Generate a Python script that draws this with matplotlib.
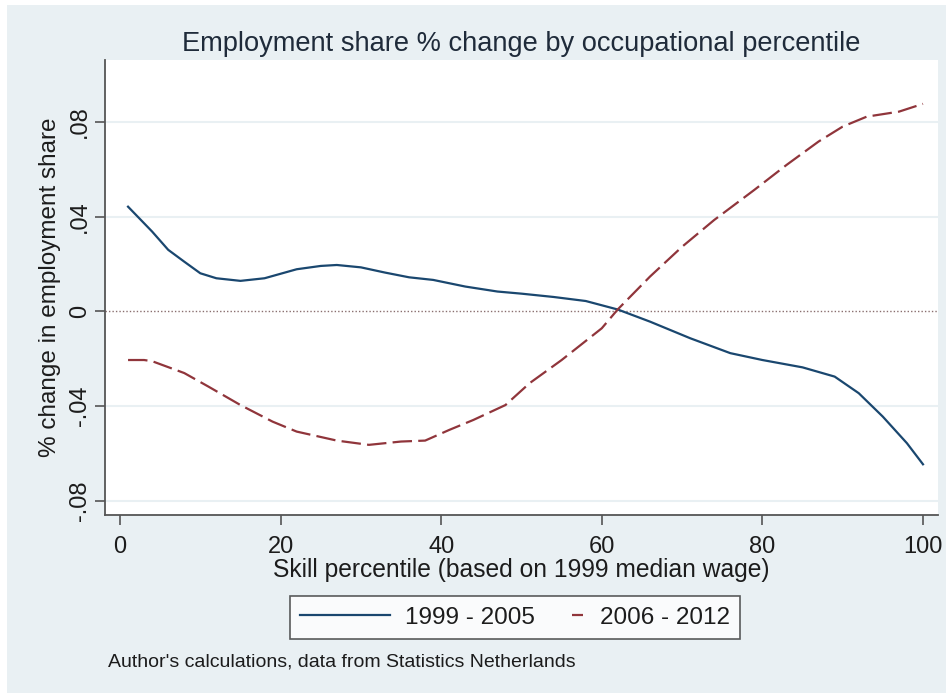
import matplotlib
matplotlib.use('Agg')
import matplotlib.pyplot as plt
from matplotlib.patches import Rectangle
from matplotlib.legend_handler import HandlerLine2D

plt.rcParams['font.family'] = ['Liberation Sans', 'DejaVu Sans']
plt.rcParams['lines.scale_dashes'] = False

# smoothed employment share change
pct_a = [1, 4, 6, 8, 10, 12, 15, 18, 22, 25, 27, 30, 33, 36, 39, 43, 47, 50,
         54, 58, 62, 66, 71, 76, 80, 85, 89, 92, 95, 98, 100]
share_a = [.0442, .0337, .026, .021, .0161, .014, .0129, .014, .0178, .0192,
           .0196, .0186, .0164, .0144, .0133, .0105, .0084, .0075, .0061, .0044,
           .0008, -.0043, -.0113, -.0176, -.0205, -.0236, -.0275, -.0345,
           -.0444, -.0556, -.0645]
pct_b = [1, 3, 4, 8, 11, 15, 19, 22, 27, 31, 35, 38, 41, 44, 48, 51, 55, 60,
         62, 66, 70, 74, 79, 83, 87, 90, 93, 97, 100]
share_b = [-.0205, -.0205, -.021, -.026, -.0317, -.0395, -.0465, -.0507,
           -.0545, -.0563, -.0549, -.0545, -.05, -.0458, -.0395, -.0303,
           -.0205, -.0071, .0009, .0147, .0273, .0386, .0513, .0618, .0717,
           .078, .0822, .0843, .0876]
series_labels = ['1999 - 2005', '2006 - 2012']
xticks = [0, 20, 40, 60, 80, 100]
yticks = [-0.08, -0.04, 0, 0.04, 0.08]
ytick_labels = ['-.08', '-.04', '0', '.04', '.08']

bg = '#e9f0f3'
navy = '#1a476f'
maroon = '#90353b'
txt = '#1c1c1c'


class ShortKey(HandlerLine2D):
    # stata draws only a short piece of the dashed key
    def get_xdata(self, legend, xdescent, ydescent, width, height, fontsize):
        xs = [width * 0.86 - xdescent, width * 0.98 - xdescent]
        return xs, xs


fig = plt.figure(figsize=(9.46, 6.93), dpi=100, facecolor='white')
fig.patches.append(Rectangle((7 / 946, 0), 1, 1 - 5 / 693, transform=fig.transFigure,
                             facecolor=bg, edgecolor='none', zorder=-10))

ax = fig.add_axes([105 / 946, 1 - 515 / 693, (938 - 105) / 946, (515 - 60) / 693])
ax.set_facecolor('white')

for t in yticks:
    if t != 0:
        ax.axhline(t, color=bg, lw=1.5, zorder=1)
ax.axhline(0, color='#8a6f6f', lw=1, ls=(0, (1, 1.5)), zorder=1)

l1, = ax.plot(pct_a, share_a, color=navy, lw=1.6, zorder=3)
l2, = ax.plot(pct_b, share_b, color=maroon, lw=1.6, ls=(0, (14, 4.5)), zorder=3)

ax.set_xlim(-1.87, 101.87)
ax.set_ylim(-0.0859, 0.1061)
ax.set_xticks(xticks)
ax.set_yticks(yticks)
ax.set_yticklabels(ytick_labels, rotation=90, va='center')
for s in ['top', 'right']:
    ax.spines[s].set_visible(False)
for s in ['left', 'bottom']:
    ax.spines[s].set_color('#555555')
    ax.spines[s].set_linewidth(1.3)
ax.tick_params(direction='out', length=7, width=1.2, color='#555555',
               labelsize=17, labelcolor=txt)
ax.tick_params(axis='x', pad=8)
ax.tick_params(axis='y', pad=3)

ax.set_xlabel('Skill percentile (based on 1999 median wage)', fontsize=17.7,
              color=txt, labelpad=0)
ax.set_ylabel('% change in employment share', fontsize=17.5, color=txt, labelpad=6)
ax.set_title('Employment share % change by occupational percentile', fontsize=19.6,
             color='#1f2b3a', pad=6.5)

leg = fig.legend([l1, l2], series_labels, loc='center', ncol=2,
                 bbox_to_anchor=(515 / 946, 1 - 617.5 / 693),
                 fontsize=17.5, frameon=True, fancybox=False, edgecolor='#333333',
                 handlelength=3.7, handletextpad=0.62, columnspacing=-1.65,
                 borderpad=0.42, handler_map={l2: ShortKey()})
leg.get_frame().set_linewidth(1.2)
for t in leg.get_texts():
    t.set_color(txt)

fig.text(108 / 946, 1 - 662 / 693, "Author's calculations, data from Statistics Netherlands",
         fontsize=14, color=txt, va='center', ha='left')

fig.savefig('out.png', dpi=100, facecolor='white')
